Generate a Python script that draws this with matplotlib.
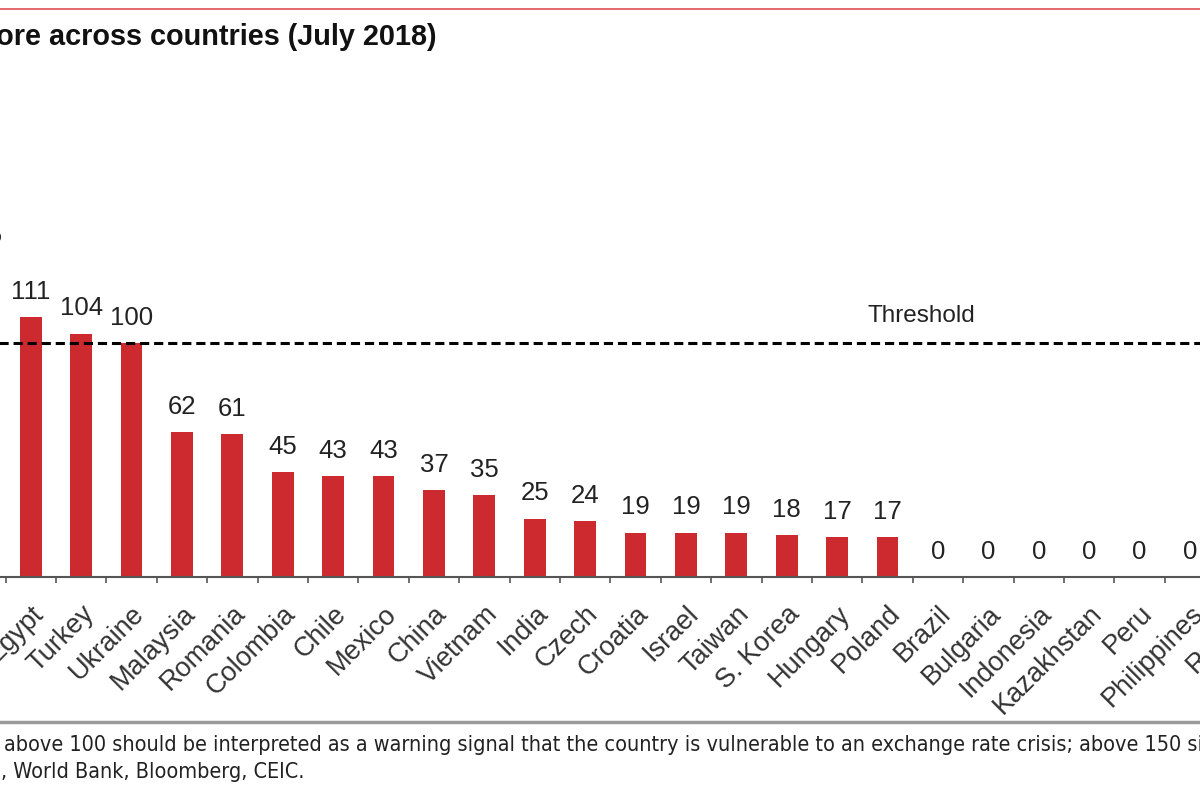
import numpy as np
import matplotlib
matplotlib.use("Agg")
import matplotlib.pyplot as plt
from matplotlib.lines import Line2D
from matplotlib import font_manager

plt.rcParams['font.family'] = ['Liberation Sans', 'DejaVu Sans']

# data (first and last category sit just outside the cropped view)
countries = ['Pakistan', 'Egypt', 'Turkey', 'Ukraine', 'Malaysia', 'Romania', 'Colombia',
             'Chile', 'Mexico', 'China', 'Vietnam', 'India', 'Czech', 'Croatia', 'Israel',
             'Taiwan', 'S. Korea', 'Hungary', 'Poland', 'Brazil', 'Bulgaria', 'Indonesia',
             'Kazakhstan', 'Peru', 'Philippines', 'Russia']
scores = [135, 111, 104, 100, 62, 61, 45, 43, 43, 37, 35, 25, 24, 19, 19, 19, 18, 17, 17,
          0, 0, 0, 0, 0, 0, 0]
threshold = 100

title = "Damocles score across countries (July 2018)"
note = "above 100 should be interpreted as a warning signal that the country is vulnerable to an exchange rate crisis; above 150 signals that an exchange rate crisis could occur in the next 12 months."
source = ", World Bank, Bloomberg, CEIC."

# narrow font for the footnote if there is one
names = {(f.name, f.stretch) for f in font_manager.fontManager.ttflist}
if any(n == 'Liberation Sans Narrow' for n, s in names):
    note_font = dict(family='Liberation Sans Narrow', fontsize=18)
elif ('DejaVu Sans', 'condensed') in names:
    note_font = dict(family='DejaVu Sans', fontstretch='condensed', fontsize=15.5)
else:
    note_font = dict(family='Liberation Sans', fontsize=15.5)

W, H = 1200, 800
fig = plt.figure(figsize=(12, 8), dpi=100)

# axes wider than the figure so the chart looks cropped like the screenshot
left_px, right_px = -100, 1300
base_px = H - 577          # baseline, from bottom
top_px = H - 60
ax = fig.add_axes([left_px / W, base_px / H, (right_px - left_px) / W, (top_px - base_px) / H])

x = np.arange(len(countries))
step = 50.4
first_center = 30.7 - step   # pixel centre of category 0
ax.set_xlim((left_px - first_center) / step, (right_px - first_center) / step)
ax.set_ylim(0, (top_px - base_px) / 2.34)

bars = ax.bar(x, scores, width=0.43, color='#cc2a2e', zorder=2)
ax.bar_label(bars, padding=9.5, fontsize=18.5, color='#222222')

ax.axhline(threshold, color='black', lw=2.2, dashes=(3, 1.6), zorder=3)
ax.text((921 - first_center) / step, (577 - 316) / 2.34, 'Threshold',
        ha='center', va='center', fontsize=17.5, color='#222222')

for s in ['top', 'right', 'left']:
    ax.spines[s].set_visible(False)
ax.spines['bottom'].set_color('#555555')
ax.spines['bottom'].set_linewidth(1.5)
ax.set_yticks([])

ax.set_xticks(x)
ax.set_xticklabels(countries, fontsize=19.5, color='#333333')
ax.set_xticks(np.arange(-0.5, len(countries), 1), minor=True)
ax.tick_params(axis='x', which='major', length=0, pad=17)
ax.tick_params(axis='x', which='minor', length=4.5, width=1.2, color='#555555', direction='out')
plt.setp(ax.get_xticklabels(), rotation=45, ha='right', va='top', rotation_mode='anchor')

# frame lines and texts of the report page
fig.add_artist(Line2D([0, 1], [1 - 9 / H] * 2, color='#e05050', lw=1.2))
fig.add_artist(Line2D([0, 1], [1 - 722 / H] * 2, color='#9a9a9a', lw=2.5))
fig.text(437 / W, 1 - 45 / H, title, ha='right', va='baseline', fontsize=20.8,
         fontweight='bold', color='#111111')
fig.text(4 / W, 1 - 745 / H, note, ha='left', va='center', color='#222222', **note_font)
fig.text(1 / W, 1 - 772 / H, source, ha='left', va='center', color='#222222', **note_font)

fig.savefig('out.png', dpi=100)
